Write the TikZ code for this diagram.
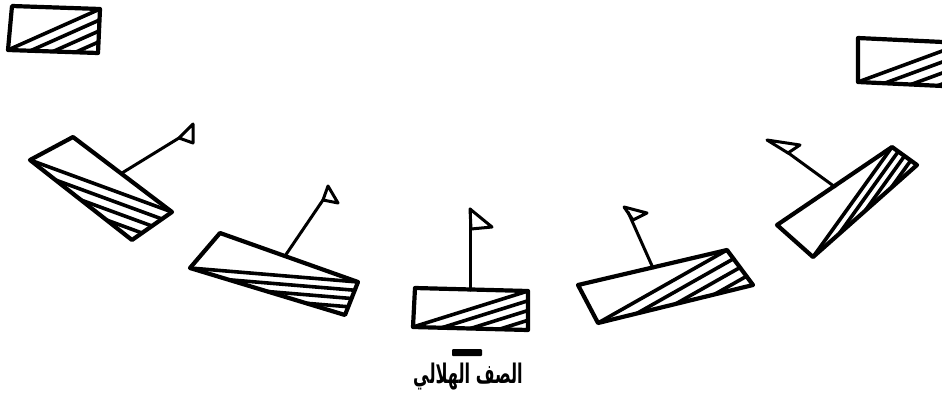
\documentclass[tikz,border=0pt]{standalone}
\usepackage{fontspec}
\newfontfamily\arabicfont[Script=Arabic]{DejaVu Sans}
\TeXXeTstate=1
\usetikzlibrary{calc}
\tikzset{
  boxline/.style={line width=4.2pt, line join=round, line cap=round},
  hatchline/.style={line width=3.6pt, line cap=round},
  poleline/.style={line width=3pt, line cap=round},
  flagline/.style={line width=3pt, line join=round},
}
\newcommand{\hatchbox}[4]{%
  \draw[hatchline] #4 -- #2;
  \foreach \t in {0.25,0.5,0.75} {\draw[hatchline] ($#4!\t!#3$) -- ($#2!\t!#3$);}
  \draw[boxline] #1 -- #2 -- #3 -- #4 -- cycle;
}
\newcommand{\flagpole}[5]{%
  \draw[poleline] #1 -- #2;
  \draw[flagline] #3 -- #4 -- #5 -- cycle;
}
\begin{document}
\begin{tikzpicture}[x=1pt,y=-1pt]
\useasboundingbox (0,0) rectangle (942,402);
\clip (0,0) rectangle (942,402);
% top corner boxes
\hatchbox{(12,6)}{(100,9)}{(98,53)}{(8,50)}
\hatchbox{(858,38)}{(964,43)}{(964,87)}{(858,82)}
% crescent row
\hatchbox{(73,137)}{(172,212)}{(132,240)}{(30,160)}
\flagpole{(122,173)}{(179,138)}{(179,138)}{(193,124)}{(193,143)}
\hatchbox{(220,233)}{(358,282)}{(345,315)}{(190,268)}
\flagpole{(285,256)}{(323,200)}{(323,200)}{(328,186)}{(338,203)}
\hatchbox{(415,288)}{(528,291)}{(528,330)}{(413,327)}
\flagpole{(470,290)}{(470,209)}{(470,209)}{(492,227)}{(471,229)}
\hatchbox{(578,285)}{(727,250)}{(753,285)}{(598,323)}
\flagpole{(653,268)}{(628,212)}{(624,207)}{(647,213)}{(633,220)}
\hatchbox{(777,225)}{(892,147)}{(917,165)}{(813,257)}
\flagpole{(835,187)}{(787,152)}{(767,140)}{(800,145)}{(788,153)}
% caption
\fill[rounded corners=1pt] (452,349) rectangle (482,356);
\node[inner sep=0pt] (caption) at (468,377) {\scalebox{0.9}[1.5]{\arabicfont\bfseries\fontsize{18}{20}\selectfont\beginR الصف الهلالي\endR}};
\end{tikzpicture}
\end{document}
